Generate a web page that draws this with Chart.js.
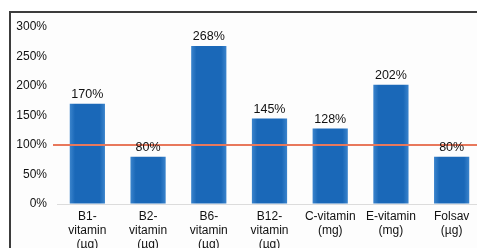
<!DOCTYPE html>
<html>
<head>
<meta charset="utf-8">
<script src="https://cdn.jsdelivr.net/npm/chart.js@4"></script>
<style>
  html, body { margin: 0; padding: 0; background: #fff; overflow: hidden; }
  body { width: 477px; height: 248px; position: relative; }
  #frame {
    position: absolute; left: 9px; top: 11px; width: 480px; height: 250px;
    border: 2px solid #3c3c3c; background: #fdfdfd;
  }
  #wrap { position: absolute; left: 0; top: 0; width: 482px; height: 248px; }
</style>
</head>
<body>
<div id="frame"></div>
<div id="wrap"><canvas id="chart"></canvas></div>
<script>
// data
const categories = [
  ['B1-', 'vitamin', '(µg)'],
  ['B2-', 'vitamin', '(µg)'],
  ['B6-', 'vitamin', '(µg)'],
  ['B12-', 'vitamin', '(µg)'],
  ['C-vitamin', '(mg)'],
  ['E-vitamin', '(mg)'],
  ['Folsav', '(µg)']
];
const percentOfNeed = [170, 80, 268, 145, 128, 202, 80];
const yTicks = [0, 50, 100, 150, 200, 250, 300];
const targetLine = 100;
const barShare = 0.58;

// reference line at 100%
const targetPlugin = {
  id: 'targetLine',
  afterDatasetsDraw(chart) {
    const { ctx, chartArea, scales } = chart;
    const y = scales.y.getPixelForValue(targetLine);
    ctx.save();
    ctx.strokeStyle = '#e8785c';
    ctx.lineWidth = 2;
    ctx.beginPath();
    ctx.moveTo(chartArea.left - 4, y);
    ctx.lineTo(chartArea.right, y);
    ctx.stroke();
    ctx.restore();
  }
};

// value labels above bars
const valuePlugin = {
  id: 'valueLabels',
  afterDraw(chart) {
    const { ctx } = chart;
    const meta = chart.getDatasetMeta(0);
    ctx.save();
    ctx.font = '12.5px "Liberation Sans", Arial, sans-serif';
    ctx.fillStyle = '#111';
    ctx.textAlign = 'center';
    ctx.textBaseline = 'middle';
    meta.data.forEach((bar, i) => {
      ctx.fillText(percentOfNeed[i] + '%', bar.x, bar.y - 9);
    });
    ctx.restore();
  }
};

function barFill(context) {
  const { chart } = context;
  const xs = chart.scales && chart.scales.x;
  if (!xs || !chart.chartArea) return '#1a68b8';
  const cx = xs.getPixelForValue(context.dataIndex);
  const half = (xs.width / categories.length) * barShare / 2;
  if (!Number.isFinite(cx) || !Number.isFinite(half)) return '#1a68b8';
  const g = chart.ctx.createLinearGradient(cx - half, 0, cx + half, 0);
  g.addColorStop(0, '#3b84cc');
  g.addColorStop(0.15, '#1a68b8');
  g.addColorStop(0.85, '#1a68b8');
  g.addColorStop(1, '#3b84cc');
  return g;
}

new Chart(document.getElementById('chart'), {
  type: 'bar',
  data: {
    labels: categories,
    datasets: [{
      data: percentOfNeed,
      backgroundColor: barFill,
      borderWidth: 0,
      barPercentage: barShare,
      categoryPercentage: 1
    }]
  },
  options: {
    responsive: true,
    maintainAspectRatio: false,
    animation: false,
    layout: { padding: { top: 27, left: 0, right: 0, bottom: 0 } },
    plugins: {
      legend: { display: false },
      tooltip: { enabled: false }
    },
    scales: {
      x: {
        grid: { display: false },
        border: { display: false },
        ticks: {
          color: '#111',
          padding: -2,
          maxRotation: 0,
          autoSkip: false,
          font: { family: '"Liberation Sans", Arial, sans-serif', size: 12, lineHeight: 1.15 }
        },
        afterFit(scale) { scale.height = 44; }
      },
      y: {
        min: 0,
        max: 300,
        afterBuildTicks(scale) { scale.ticks = yTicks.map(v => ({ value: v })); },
        grid: {
          drawTicks: false,
          color: ctx => ctx.tick && ctx.tick.value === 0 ? '#dcdcdc' : 'rgba(0,0,0,0)'
        },
        border: { display: false },
        ticks: {
          color: '#111',
          padding: 10,
          callback: v => v + '%',
          font: { family: '"Liberation Sans", Arial, sans-serif', size: 12 }
        },
        afterFit(scale) { scale.width = 57; }
      }
    }
  },
  plugins: [targetPlugin, valuePlugin]
});
</script>
</body>
</html>
